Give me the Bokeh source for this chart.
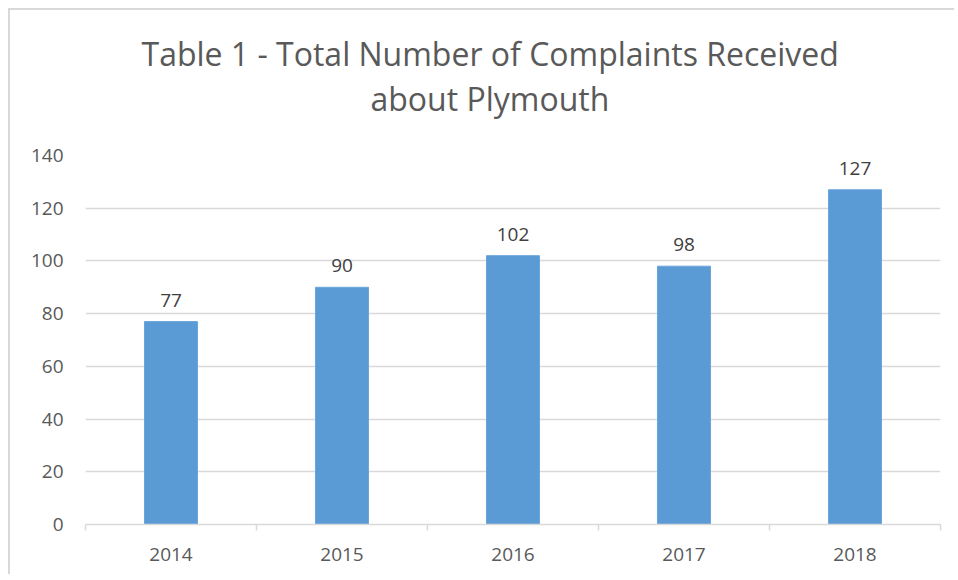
from bokeh.plotting import figure
from bokeh.models import ColumnDataSource, Range1d, FixedTicker, Title
from bokeh.core.properties import value
from bokeh.embed import file_html
from bokeh.resources import INLINE

years = ["2014", "2015", "2016", "2017", "2018"]
complaints = [77, 90, 102, 98, 127]
y_ticks = [0, 20, 40, 60, 80, 100, 120, 140]
title_lines = ["Table 1 - Total Number of Complaints Received", "about Plymouth"]

FONT = "Open Sans"
TXT = "#595959"
GRID = "#d9d9d9"

xs = [i + 0.5 for i in range(len(years))]
src = ColumnDataSource(dict(x=xs, y=complaints, lab=[str(v) for v in complaints]))

W, H = 946, 566
p = figure(width=W, height=H, output_backend="svg", toolbar_location=None,
           x_range=Range1d(0, len(years)), y_range=Range1d(0, 140),
           min_border_left=75, min_border_right=16, min_border_top=145, min_border_bottom=52,
           styles={"border-top": "2px solid #d9d9d9", "border-left": "2px solid #d9d9d9",
                   "margin-left": "8px", "margin-top": "8px"})
p.outline_line_color = None
p.background_fill_color = "white"
p.border_fill_color = "white"

p.vbar(x="x", top="y", width=0.31, bottom=0, source=src,
       fill_color="#5B9BD5", line_color="#6aa5dc", line_width=1)

p.text(x="x", y="y", text="lab", source=src, text_align="center", text_baseline="bottom",
       y_offset=-15, text_font=value(FONT), text_font_size="19px", text_color="#404040")

# y axis
p.yaxis.ticker = FixedTicker(ticks=y_ticks)
p.yaxis.axis_line_color = None
p.yaxis.major_tick_line_color = None
p.yaxis.minor_tick_line_color = None
p.yaxis.major_label_standoff = 16
p.yaxis.major_label_text_font = FONT
p.yaxis.major_label_text_font_size = "19px"
p.yaxis.major_label_text_color = TXT

# x axis: labels at centers, tick marks at boundaries
p.xaxis.ticker = FixedTicker(ticks=xs, minor_ticks=list(range(len(years) + 1)))
p.xaxis.major_label_overrides = {x: y for x, y in zip(xs, years)}
p.xaxis.axis_line_color = GRID
p.xaxis.axis_line_width = 1.5
p.xaxis.major_tick_line_color = None
p.xaxis.minor_tick_line_color = GRID
p.xaxis.minor_tick_line_width = 1.5
p.xaxis.minor_tick_out = 6
p.xaxis.minor_tick_in = 0
p.xaxis.major_label_standoff = 17
p.xaxis.major_label_text_font = FONT
p.xaxis.major_label_text_font_size = "19px"
p.xaxis.major_label_text_color = TXT

p.xgrid.grid_line_color = None
p.ygrid.grid_line_color = GRID
p.ygrid.grid_line_width = 1.5

# title: two lines (outer = first line, inner = second line)
p.title.text = title_lines[0]
p.title.align = "left"
p.title.offset = 56
p.title.text_font = FONT
p.title.text_font_size = "32px"
p.title.text_font_style = "normal"
p.title.text_color = TXT
p.title.standoff = -70
t2 = Title(text=title_lines[1], align="left", offset=285, text_font=FONT, text_font_size="32px",
           text_font_style="normal", text_color=TXT, standoff=71)
p.add_layout(t2, "above")

open("out.html", "w").write(file_html(p, INLINE))
